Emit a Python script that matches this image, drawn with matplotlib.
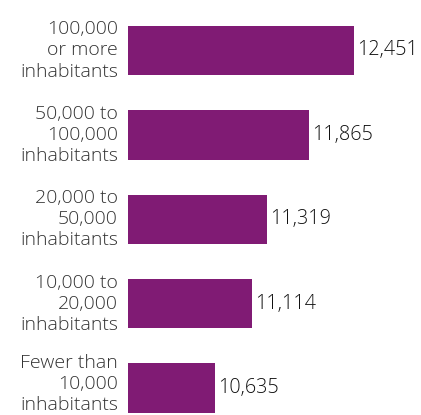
import matplotlib
matplotlib.use("Agg")
import matplotlib.pyplot as plt

categories = ["100,000\nor more\ninhabitants",
              "50,000 to\n100,000\ninhabitants",
              "20,000 to\n50,000\ninhabitants",
              "10,000 to\n20,000\ninhabitants",
              "Fewer than\n10,000\ninhabitants"]
values = [12451, 11865, 11319, 11114, 10635]

plt.rcParams['font.family'] = ['Open Sans', 'DejaVu Sans']

fig = plt.figure(figsize=(4.21, 4.15), dpi=100)
ax = fig.add_axes([128/421, 0, 293/421, 1])
pos = list(range(len(values)))
ax.barh(pos, values, height=0.587, color='#801b74', left=0)
ax.set_xlim(9498, 13326)
ax.set_ylim(4.319, -0.598)
ax.set_yticks([])
ax.set_xticks([])
for s in ax.spines.values():
    s.set_visible(False)
label_dy = [0, 0, 0, 0, 4]
for p, lab, dy in zip(pos, categories, label_dy):
    ax.annotate(lab, xy=(0, p), xycoords=('axes fraction', 'data'),
                xytext=(-10, dy), textcoords='offset pixels',
                ha='right', va='center', multialignment='right',
                fontsize=14, color='#333333', linespacing=1.22,
                fontweight='light', annotation_clip=False)
for p, v in zip(pos, values):
    ax.annotate(f"{v:,}", xy=(v, p), xytext=(3, 0), textcoords='offset pixels',
                va='center', ha='left', fontsize=14.2, color='#111111',
                fontweight='light')
fig.savefig("out.png", dpi=100)
